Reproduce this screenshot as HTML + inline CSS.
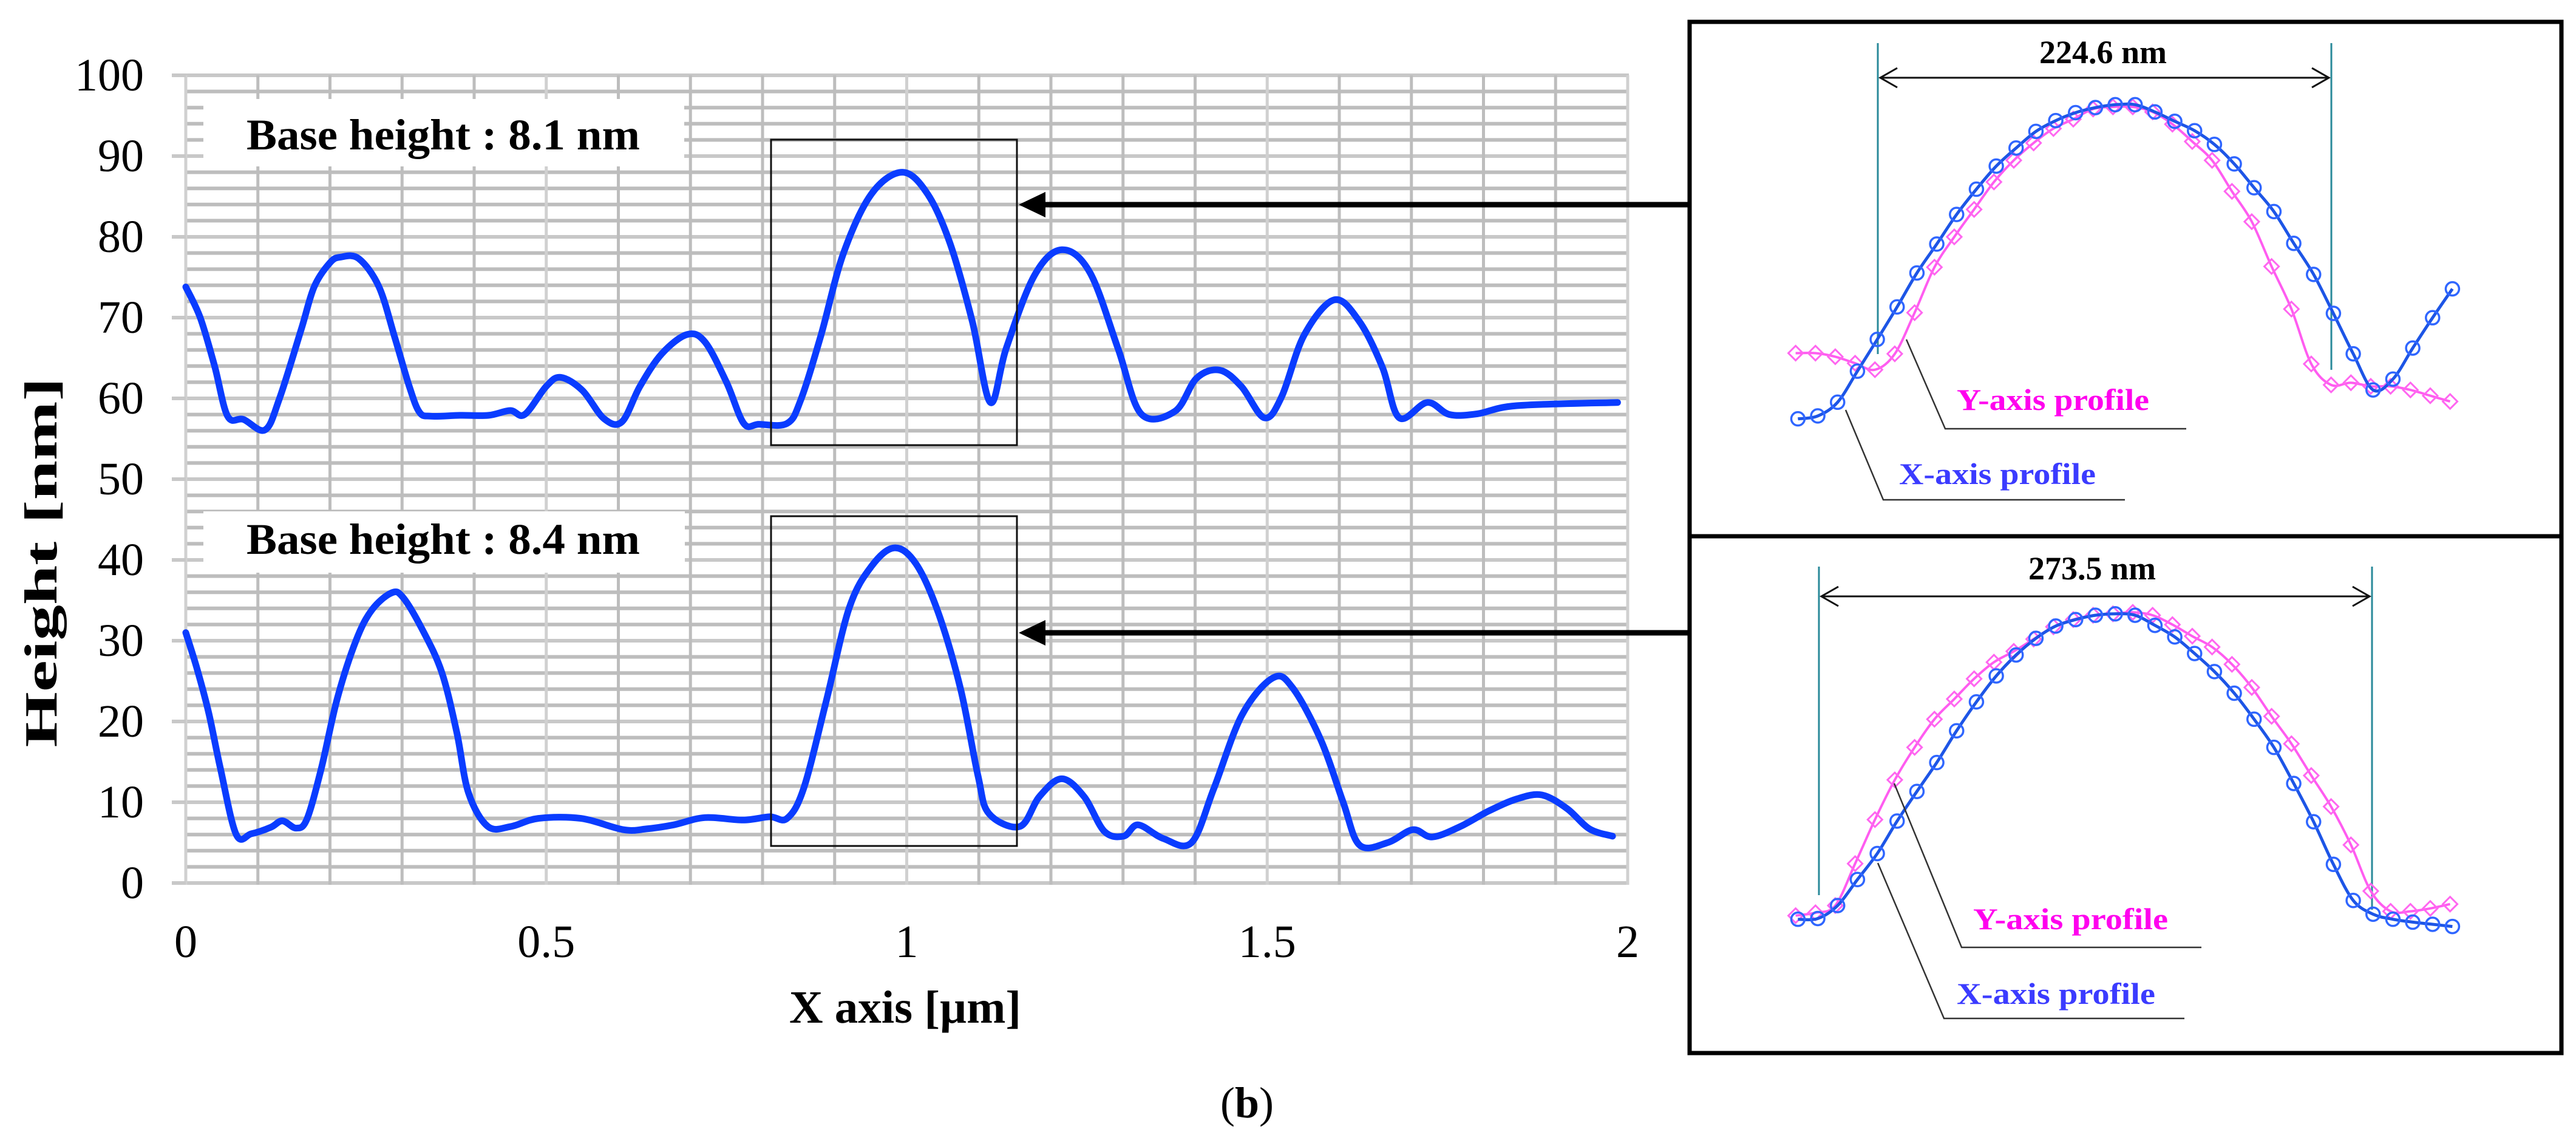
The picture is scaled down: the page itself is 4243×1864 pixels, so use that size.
<!DOCTYPE html>
<html><head><meta charset="utf-8"><style>
html,body{margin:0;padding:0;background:#fff;}
svg{display:block;}
text{font-family:"Liberation Serif",serif;}
</style></head><body>
<svg id="fig" width="4243" height="1864" viewBox="0 0 4243 1864" xmlns="http://www.w3.org/2000/svg">
<g id="grid"></g>
<g id="labelboxes">
<rect x="335" y="163" width="792" height="111" fill="#fff"/>
<rect x="335" y="842" width="793" height="101" fill="#fff"/>
<text x="406" y="246" font-size="72" font-weight="bold" textLength="648" lengthAdjust="spacingAndGlyphs">Base height : 8.1 nm</text>
<text x="406" y="912" font-size="72" font-weight="bold" textLength="648" lengthAdjust="spacingAndGlyphs">Base height : 8.4 nm</text>
</g>
<g id="axes"></g>
<g id="series"></g>
<g>
<rect x="1270" y="230" width="405" height="503" fill="none" stroke="#111" stroke-width="3"/>
<rect x="1270" y="850" width="405" height="543" fill="none" stroke="#111" stroke-width="3"/>
<line x1="1715" y1="337" x2="2786" y2="337" stroke="#000" stroke-width="9"/>
<polygon points="1678,337 1722,316 1722,358" fill="#000"/>
<line x1="1715" y1="1042" x2="2786" y2="1042" stroke="#000" stroke-width="9"/>
<polygon points="1678,1042 1722,1021 1722,1063" fill="#000"/>
</g>
<g>
<rect x="2783" y="36" width="1436" height="1698" fill="none" stroke="#000" stroke-width="7"/>
<line x1="2783" y1="883" x2="4219" y2="883" stroke="#000" stroke-width="7"/>
</g>
<g id="insets">
<line x1="3093" y1="71" x2="3093" y2="583" stroke="#2a8a9a" stroke-width="3"/>
<line x1="3840" y1="71" x2="3840" y2="609" stroke="#2a8a9a" stroke-width="3"/>
<line x1="3097" y1="128" x2="3836" y2="128" stroke="#111" stroke-width="3"/>
<polyline points="3125,112 3097,128 3125,144" fill="none" stroke="#111" stroke-width="3"/>
<polyline points="3808,112 3836,128 3808,144" fill="none" stroke="#111" stroke-width="3"/>
<text x="3464" y="104" font-size="54" font-weight="bold" text-anchor="middle">224.6 nm</text>

<line x1="2996" y1="933" x2="2996" y2="1474" stroke="#2a8a9a" stroke-width="3"/>
<line x1="3907" y1="933" x2="3907" y2="1498" stroke="#2a8a9a" stroke-width="3"/>
<line x1="3000" y1="982" x2="3903" y2="982" stroke="#111" stroke-width="3"/>
<polyline points="3028,966 3000,982 3028,998" fill="none" stroke="#111" stroke-width="3"/>
<polyline points="3875,966 3903,982 3875,998" fill="none" stroke="#111" stroke-width="3"/>
<text x="3446" y="954" font-size="54" font-weight="bold" text-anchor="middle">273.5 nm</text>
</g>
<g id="inset-series"></g>
<g>
<polyline points="3140,559 3204,706 3601,706" fill="none" stroke="#333" stroke-width="2.5"/>
<text x="3223" y="675" font-size="50" font-weight="bold" fill="#ff00ee" textLength="317" lengthAdjust="spacingAndGlyphs">Y-axis profile</text>
<polyline points="3040,675 3102,823 3500,823" fill="none" stroke="#333" stroke-width="2.5"/>
<text x="3128" y="797" font-size="50" font-weight="bold" fill="#3b3bff" textLength="324" lengthAdjust="spacingAndGlyphs">X-axis profile</text>

<polyline points="3120,1290 3231,1560 3626,1560" fill="none" stroke="#333" stroke-width="2.5"/>
<text x="3250" y="1530" font-size="50" font-weight="bold" fill="#ff00ee" textLength="321" lengthAdjust="spacingAndGlyphs">Y-axis profile</text>
<polyline points="3093,1421 3202,1677 3598,1677" fill="none" stroke="#333" stroke-width="2.5"/>
<text x="3223" y="1653" font-size="50" font-weight="bold" fill="#3b3bff" textLength="327" lengthAdjust="spacingAndGlyphs">X-axis profile</text>
</g>
<text x="2054" y="1840" font-size="72" text-anchor="middle">(<tspan font-weight="bold">b</tspan>)</text>
</svg>
<script>
// ---- main chart data ----
const topX = [0,0.02,0.04,0.058,0.08,0.11,0.13,0.16,0.178,0.2,0.215,0.24,0.268,0.29,0.31,0.324,0.34,0.38,0.42,0.45,0.47,0.5,0.52,0.55,0.58,0.605,0.63,0.66,0.695,0.72,0.75,0.774,0.795,0.834,0.853,0.881,0.912,0.951,0.994,1.029,1.06,1.091,1.116,1.138,1.177,1.215,1.254,1.293,1.325,1.372,1.402,1.434,1.464,1.496,1.52,1.551,1.593,1.628,1.66,1.683,1.722,1.753,1.792,1.846,1.986];
const topY = [73.8,70,64,57.8,57.4,56.1,60,68.5,73.8,76.8,77.5,77.3,73.8,67.5,61.5,58.3,57.8,57.9,57.9,58.5,58,61.5,62.6,61,57.5,57.1,61.5,65.5,67.9,67,62,56.9,56.8,56.9,59.8,67.8,77.9,85.3,88,85.3,79.2,69.5,59.5,66.2,75.2,78.4,75.6,66.2,58.1,58.4,62.5,63.5,61.5,57.6,60.2,67.8,72.2,69.5,63.8,57.6,59.5,58,58.1,59.1,59.5];
const botX = [0,0.016,0.032,0.048,0.07,0.091,0.118,0.134,0.153,0.168,0.188,0.21,0.236,0.258,0.285,0.301,0.328,0.355,0.376,0.392,0.419,0.451,0.489,0.548,0.607,0.639,0.677,0.72,0.773,0.81,0.834,0.857,0.888,0.92,0.951,0.983,1.013,1.044,1.075,1.099,1.114,1.157,1.184,1.215,1.246,1.274,1.301,1.321,1.356,1.395,1.426,1.465,1.508,1.535,1.574,1.605,1.628,1.667,1.702,1.729,1.768,1.807,1.846,1.881,1.916,1.947,1.979];
const botY = [31,26.4,21,14.2,6,6.1,6.9,7.7,6.8,7.9,14.2,22.8,30,33.8,35.9,35.4,31.4,26.1,18.6,11.2,7,7,8,8,6.6,6.7,7.2,8.1,7.8,8.2,8,11.7,22.4,34,39.2,41.5,39.5,33.4,23.9,13.2,8.6,7,10.7,12.9,10.7,6.4,5.8,7.2,5.5,5,11.7,20.8,25.4,24.2,17.8,10.1,4.7,5,6.6,5.7,7,8.9,10.4,10.9,9.2,6.7,5.8];
const yTicks = [0,10,20,30,40,50,60,70,80,90,100];
const xTicks = [0,0.5,1,1.5,2];
const xTickLabels = ["0","0.5","1","1.5","2"];

// ---- inset data (relative heights, nm) ----
const insTopXprof = [2.0,2.4,4.3,8.6,13.0,17.5,22.2,26.2,30.3,33.8,37.0,39.5,41.8,43.3,44.4,45.1,45.5,45.5,44.5,43.2,41.9,40.0,37.3,34.0,30.7,26.3,22.0,16.6,11.0,6.0,7.5,11.8,16.0,20.0];
const insTopYprof = [11.1,11.1,10.6,9.7,8.8,11.0,16.7,23.0,27.2,31.0,34.8,37.8,40.2,42.2,43.5,44.9,45.2,45.2,44.5,42.8,40.4,37.8,33.5,29.3,23.1,17.2,9.6,6.7,7.0,6.5,6.5,6.0,5.2,4.4];
const insBotXprof = [2.7,2.8,4.6,8.2,11.8,16.3,20.4,24.4,28.8,32.8,36.4,39.3,41.6,43.3,44.2,44.8,45.0,44.8,43.4,41.8,39.5,37.0,34.0,30.4,26.5,21.5,16.2,10.3,5.3,3.4,2.7,2.3,2.0,1.7];
const insBotYprof = [3.2,3.6,4.6,10.4,16.5,22.0,26.5,30.4,33.2,36.0,38.3,39.8,41.5,43.2,44.2,44.8,45.0,45.2,44.8,43.5,41.9,40.4,38.0,34.8,30.8,27.0,22.6,18.3,13.0,6.6,3.8,3.8,4.2,4.8];

const NS = "http://www.w3.org/2000/svg";
const X0 = 306, X1 = 2681, Y0 = 1454, Y1 = 124;
const sx = v => X0 + (v - 0) / 2 * (X1 - X0);
const sy = v => Y0 - v / 100 * (Y0 - Y1);
function mk(tag, attrs, parent) {
  const e = document.createElementNS(NS, tag);
  for (const k in attrs) e.setAttribute(k, attrs[k]);
  parent.appendChild(e);
  return e;
}
function smoothPath(pts) {
  let d = 'M' + pts[0][0].toFixed(1) + ',' + pts[0][1].toFixed(1);
  for (let i = 0; i < pts.length - 1; i++) {
    const p0 = pts[i - 1] || pts[i], p1 = pts[i], p2 = pts[i + 1], p3 = pts[i + 2] || p2;
    const t = 1 / 6;
    const c1 = [p1[0] + (p2[0] - p0[0]) * t, p1[1] + (p2[1] - p0[1]) * t];
    const c2 = [p2[0] - (p3[0] - p1[0]) * t, p2[1] - (p3[1] - p1[1]) * t];
    d += ' C' + c1.map(v => v.toFixed(1)).join(',') + ' ' + c2.map(v => v.toFixed(1)).join(',') + ' ' + p2[0].toFixed(1) + ',' + p2[1].toFixed(1);
  }
  return d;
}
const grid = document.getElementById('grid');
for (let v = 0; v <= 100; v += 2) {
  const l = mk('line', {x1: X0 - 2, x2: X1 + 2, y1: sy(v), y2: sy(v), stroke: v % 10 === 0 ? '#c8c8c8' : '#bdbdbd', 'stroke-width': 6}, grid);
  
  
}
for (let i = 0; i <= 20; i++) {
  const v = i / 10;
  const l = mk('line', {x1: sx(v), x2: sx(v), y1: Y1, y2: Y0 + 3, stroke: i % 5 === 0 ? '#d0d0d0' : '#bdbdbd', 'stroke-width': 5}, grid);
  
  
}
const axes = document.getElementById('axes');
yTicks.forEach(v => {
  const t = mk('text', {x: 237, y: sy(v) + 25, 'font-size': 76, 'text-anchor': 'end'}, axes);
  t.textContent = v;
  
  
  const tk = mk('line', {x1: 283, x2: X0, y1: sy(v), y2: sy(v), stroke: '#c8c8c8', 'stroke-width': 6}, axes);
  
  
});
xTicks.forEach((v, i) => {
  const t = mk('text', {x: sx(v), y: 1576, 'font-size': 76, 'text-anchor': 'middle'}, axes);
  t.textContent = xTickLabels[i];
  
  
});
const xt = mk('text', {x: 1491, y: 1684, 'font-size': 76, 'font-weight': 'bold', 'text-anchor': 'middle', textLength: 382, lengthAdjust: 'spacingAndGlyphs'}, axes);
xt.textContent = 'X axis [µm]';


const yt = mk('text', {x: 0, y: 0, 'font-size': 76, 'font-weight': 'bold', 'text-anchor': 'middle', textLength: 609, lengthAdjust: 'spacingAndGlyphs', transform: 'translate(93,926) rotate(-90)'}, axes);
yt.textContent = 'Height [nm]';



const series = document.getElementById('series');
function curve(xs, ys, name) {
  const pts = xs.map((x, i) => [sx(x), sy(ys[i])]);
  const p = mk('path', {d: smoothPath(pts), fill: 'none', stroke: '#0a3cff', 'stroke-width': 11, 'stroke-linejoin': 'round', 'stroke-linecap': 'round'}, series);
  
  
}
curve(topX, topY, 'top-profile-line');
curve(botX, botY, 'bottom-profile-line');

// ---- insets ----
const ins = document.getElementById('inset-series');
const ix = (i, off) => 2750 + (off + 34.3 * i) / 1.05;
function iy(v, base) { return (base - 10 * v) / 0.841; }
function insetSeries(vals, base, off, kind, name) {
  const color = kind === 'x' ? '#1d55e6' : '#ff5cf0';
  const pts = vals.map((v, i) => [ix(i, off), iy(v, base)]);
  const pl = mk('path', {d: smoothPath(pts), fill: 'none', stroke: color, 'stroke-width': kind === 'x' ? 5 : 4}, ins);
  
  
  vals.forEach((v, i) => {
    const cx = ix(i, off), cy = iy(v, base);
    let m;
    if (kind === 'x') {
      m = mk('circle', {cx: cx, cy: cy, r: 11, fill: 'none', stroke: '#2f66ff', 'stroke-width': 3.5}, ins);
    } else {
      const s = 12;
      m = mk('polygon', {points: `${cx},${cy - s} ${cx + s},${cy} ${cx},${cy + s} ${cx - s},${cy}`, fill: 'none', stroke: '#ff66f0', 'stroke-width': 3}, ins);
    }
    
    
  });
}
insetSeries(insTopYprof, 600, 218, 'y', 'top-y-profile');
insetSeries(insTopXprof, 600, 222, 'x', 'top-x-profile');
insetSeries(insBotYprof, 1300, 218, 'y', 'bottom-y-profile');
insetSeries(insBotXprof, 1300, 222, 'x', 'bottom-x-profile');
</script>
</body></html>
